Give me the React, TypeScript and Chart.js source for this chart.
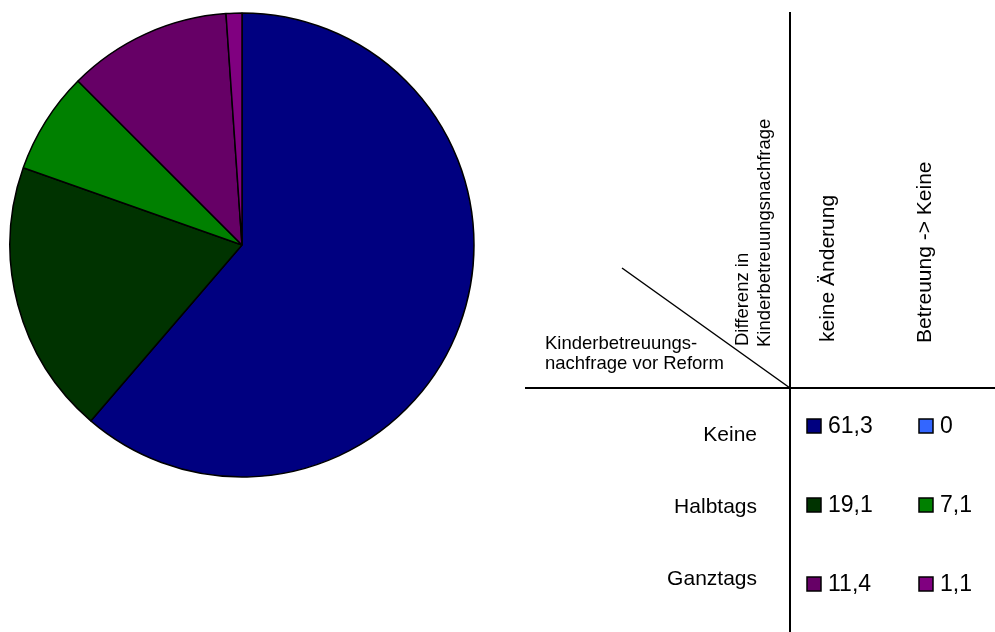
import React, { useEffect, useRef } from "react";
import { Chart, registerables } from "chart.js";

Chart.register(...registerables);

const rowLabels = ["Keine", "Halbtags", "Ganztags"];
const columnLabels = ["keine Änderung", "Betreuung -> Keine"];
const keineAenderung = [61.3, 19.1, 11.4];
const betreuungKeine = [0, 7.1, 1.1];
const colorsKeineAenderung = ["#000080", "#003300", "#660066"];
const colorsBetreuungKeine = ["#3366FF", "#008000", "#800080"];
const cornerLabelRows = ["Kinderbetreuungs-", "nachfrage vor Reform"];
const cornerLabelCols = ["Differenz in", "Kinderbetreuungsnachfrage"];

const fmt = (v: number) => String(v).replace(".", ",");

const FONT = "'Liberation Sans', Arial, sans-serif";

const tablePlugin = {
  id: "tableLegend",
  afterDraw(chart: any) {
    const ctx = chart.ctx as CanvasRenderingContext2D;
    ctx.save();
    ctx.strokeStyle = "#000";
    ctx.fillStyle = "#000";
    // grid lines
    ctx.lineWidth = 2;
    ctx.beginPath();
    ctx.moveTo(790, 12);
    ctx.lineTo(790, 632);
    ctx.stroke();
    ctx.beginPath();
    ctx.moveTo(525, 388);
    ctx.lineTo(995, 388);
    ctx.stroke();
    ctx.lineWidth = 1.5;
    ctx.beginPath();
    ctx.moveTo(622, 268);
    ctx.lineTo(790, 388);
    ctx.stroke();

    // corner label (horizontal)
    ctx.font = `18.5px ${FONT}`;
    ctx.textAlign = "left";
    ctx.textBaseline = "middle";
    ctx.fillText(cornerLabelRows[0], 545, 344);
    ctx.fillText(cornerLabelRows[1], 545, 364);

    // rotated labels
    const rot = (text: string, x: number, yBottom: number, size: number) => {
      ctx.save();
      ctx.translate(x, yBottom);
      ctx.rotate(-Math.PI / 2);
      ctx.font = `${size}px ${FONT}`;
      ctx.textAlign = "left";
      ctx.textBaseline = "middle";
      ctx.fillText(text, 0, 0);
      ctx.restore();
    };
    rot(cornerLabelCols[0], 743, 346, 18.5);
    rot(cornerLabelCols[1], 765, 347, 18.5);
    rot(columnLabels[0], 828, 342, 21);
    rot(columnLabels[1], 925, 343, 21);

    // row labels
    const rowY = [426, 505, 584];
    const labelY = [435, 507, 579];
    ctx.font = `21px ${FONT}`;
    ctx.textAlign = "right";
    ctx.textBaseline = "middle";
    rowLabels.forEach((l, i) => ctx.fillText(l, 757, labelY[i]));

    // value cells
    const cols = [
      { box: 807, text: 828, vals: keineAenderung, colors: colorsKeineAenderung },
      { box: 919, text: 940, vals: betreuungKeine, colors: colorsBetreuungKeine },
    ];
    ctx.font = `23px ${FONT}`;
    ctx.textAlign = "left";
    cols.forEach((c) => {
      c.vals.forEach((v, i) => {
        const y = rowY[i];
        ctx.fillStyle = c.colors[i];
        ctx.fillRect(c.box, y - 7, 14, 14);
        ctx.lineWidth = 1.5;
        ctx.strokeStyle = "#000";
        ctx.strokeRect(c.box, y - 7, 14, 14);
        ctx.fillStyle = "#000";
        ctx.fillText(fmt(v), c.text, y + 1);
      });
    });
    ctx.restore();
  },
};

export default function App() {
  const ref = useRef<HTMLCanvasElement>(null);
  useEffect(() => {
    if (!ref.current) return;
    const data: number[] = [];
    const colors: string[] = [];
    const labels: string[] = [];
    rowLabels.forEach((r, i) => {
      data.push(keineAenderung[i], betreuungKeine[i]);
      colors.push(colorsKeineAenderung[i], colorsBetreuungKeine[i]);
      labels.push(`${r} – ${columnLabels[0]}`, `${r} – ${columnLabels[1]}`);
    });
    const chart = new Chart(ref.current, {
      type: "pie",
      data: {
        labels,
        datasets: [
          {
            data,
            backgroundColor: colors,
            borderColor: "#000",
            borderWidth: 1.5,
            borderAlign: "center",
          },
        ],
      },
      options: {
        responsive: false,
        animation: false,
        radius: 232,
        layout: { padding: { left: 10, right: 521, top: 13, bottom: 155 } },
        plugins: { legend: { display: false }, tooltip: { enabled: false } },
      } as any,
      plugins: [tablePlugin],
    });
    return () => chart.destroy();
  }, []);
  return (
    <div style={{ position: "fixed", left: 0, top: 0, width: 995, height: 632, background: "#fff" }}>
      <canvas ref={ref} width={995} height={632} style={{ display: "block" }} />
    </div>
  );
}
